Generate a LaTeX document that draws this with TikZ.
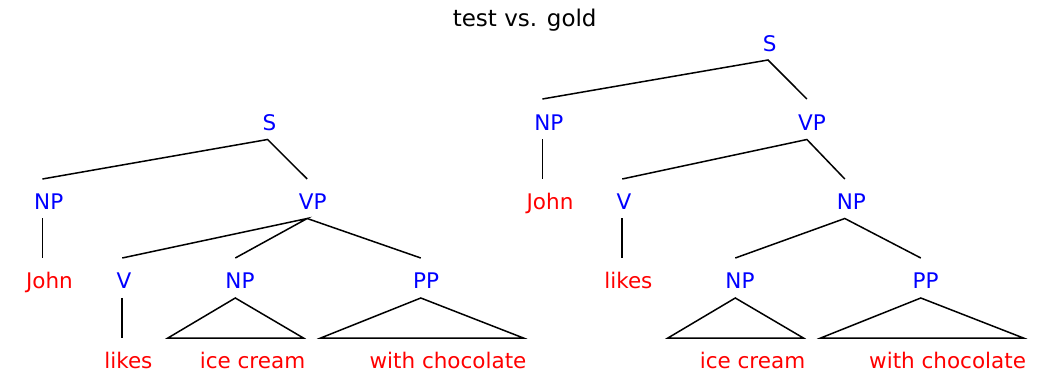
\documentclass[tikz,border=0pt]{standalone}
\usepackage{fontspec}
\setmainfont{DejaVu Sans}
\begin{document}
\begin{tikzpicture}[x=1pt,y=-1pt,
  every node/.style={inner sep=0pt, anchor=base, font=\fontsize{21.5}{26}\selectfont},
  ttl/.style={text=black, font=\fontsize{23}{28}\selectfont},
  cat/.style={text=blue},
  word/.style={text=red},
  branch/.style={draw=black, line width=1.5pt}]
\useasboundingbox (0,0) rectangle (1042,374);

% title
\node[ttl] (title) at (524.7,26.5) {test vs. gold};

% ---------- left tree (test) ----------
\node[cat]  (lS)    at (269.5,131) {S};
\node[cat]  (lNP)   at (48.7,210)  {NP};
\node[cat]  (lVP)   at (312.7,210) {VP};
\node[word] (lJohn) at (49.4,289)  {John};
\node[cat]  (lV)    at (124,289)   {V};
\node[cat]  (lNPo)  at (240,289)   {NP};
\node[cat]  (lPP)   at (426,289)   {PP};
\node[word] (llikes) at (128.4,368) {likes};
\node[word] (lice)  at (252.5,368) {ice cream};
\node[word] (lwith) at (448,368)   {with chocolate};

% branch points
\coordinate (lS-b)    at (267.6,139.5);
\coordinate (lNP-t)   at (42.4,179);
\coordinate (lNP-b)   at (42.4,218.5);
\coordinate (lVP-t)   at (307.2,179);
\coordinate (lVP-b)   at (307.2,218.5);
\coordinate (lJohn-t) at (42.4,258);
\coordinate (lV-t)    at (122.2,258);
\coordinate (lV-b)    at (122.2,298);
\coordinate (lNPo-t)  at (235.3,258);
\coordinate (lNPo-b)  at (235.3,298);
\coordinate (lPP-t)   at (420.8,258);
\coordinate (lPP-b)   at (420.8,298);
\coordinate (llikes-t) at (122.2,338);
\coordinate (lice-l)  at (167.9,338);
\coordinate (lice-r)  at (303.4,338);
\coordinate (lwith-l) at (320.7,338);
\coordinate (lwith-r) at (523.4,338);

\draw[branch] (lNP-t) -- (lS-b) -- (lVP-t);
\draw[branch] (lNP-b) -- (lJohn-t);
\draw[branch] (lV-t) -- (lVP-b) -- (lNPo-t);
\draw[branch] (lVP-b) -- (lPP-t);
\draw[branch] (lV-b) -- (llikes-t);
\draw[branch] (lNPo-b) -- (lice-l) -- (lice-r) -- cycle;
\draw[branch] (lPP-b) -- (lwith-l) -- (lwith-r) -- cycle;

% ---------- right tree (gold) ----------
\node[cat]  (rS)    at (769.6,52)  {S};
\node[cat]  (rNP)   at (548.8,131) {NP};
\node[cat]  (rVP)   at (812,131)   {VP};
\node[word] (rJohn) at (550,210)   {John};
\node[cat]  (rV)    at (624,210)   {V};
\node[cat]  (rNPo)  at (851.4,210) {NP};
\node[word] (rlikes) at (628.4,289) {likes};
\node[cat]  (rNPi)  at (740,289)   {NP};
\node[cat]  (rPP)   at (925.7,289) {PP};
\node[word] (rice)  at (752.5,368) {ice cream};
\node[word] (rwith) at (947.6,368) {with chocolate};

\coordinate (rS-b)    at (768,60);
\coordinate (rNP-t)   at (542.4,99);
\coordinate (rNP-b)   at (542.4,139.5);
\coordinate (rVP-t)   at (806.9,99);
\coordinate (rVP-b)   at (806.9,139.5);
\coordinate (rJohn-t) at (542.4,179);
\coordinate (rV-t)    at (622.2,179);
\coordinate (rV-b)    at (622.2,218.5);
\coordinate (rNPo-t)  at (844.8,179);
\coordinate (rNPo-b)  at (844.8,218.5);
\coordinate (rlikes-t) at (622.2,258);
\coordinate (rNPi-t)  at (735.3,258);
\coordinate (rNPi-b)  at (735.3,298);
\coordinate (rPP-t)   at (920.8,258);
\coordinate (rPP-b)   at (920.8,298);
\coordinate (rice-l)  at (667.9,338);
\coordinate (rice-r)  at (803.4,338);
\coordinate (rwith-l) at (820.7,338);
\coordinate (rwith-r) at (1023.4,338);

\draw[branch] (rNP-t) -- (rS-b) -- (rVP-t);
\draw[branch] (rNP-b) -- (rJohn-t);
\draw[branch] (rV-t) -- (rVP-b) -- (rNPo-t);
\draw[branch] (rV-b) -- (rlikes-t);
\draw[branch] (rNPi-t) -- (rNPo-b) -- (rPP-t);
\draw[branch] (rNPi-b) -- (rice-l) -- (rice-r) -- cycle;
\draw[branch] (rPP-b) -- (rwith-l) -- (rwith-r) -- cycle;
\end{tikzpicture}
\end{document}
